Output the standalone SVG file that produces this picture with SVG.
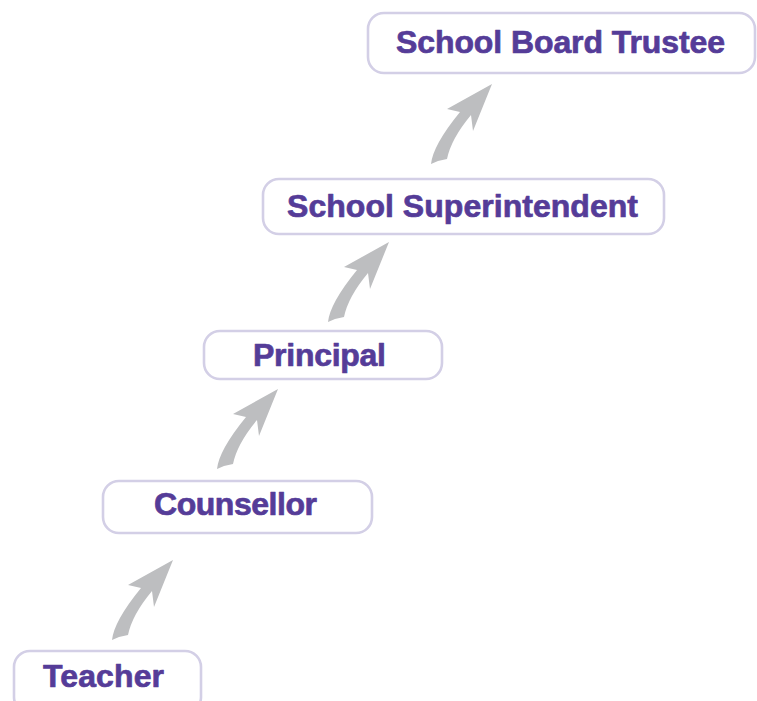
<svg xmlns="http://www.w3.org/2000/svg" width="757" height="701" viewBox="0 0 757 701">
<style>
.box{fill:#ffffff;stroke:#d3cfe6;stroke-width:2.6}
.lbl{font-family:"Liberation Sans",Arial,sans-serif;font-weight:bold;font-size:32px;fill:#553c98;stroke:#553c98;stroke-width:0.7;stroke-linejoin:round}
.arr{fill:#bdbec0}
</style>
<defs>
<path id="arrow" class="arr" d="M0,0 L-45,25 L-32,28 Q-59,61 -61,80 L-54,77 L-45,75 Q-41,55 -21,31 L-19,47 Z"/>
</defs>
<rect width="757" height="701" fill="#ffffff"/>
<g id="connectors">
<use href="#arrow" transform="translate(173,560)"/>
<use href="#arrow" transform="translate(278,389)"/>
<use href="#arrow" transform="translate(389,242)"/>
<use href="#arrow" transform="translate(492,84)"/>
</g>
<g id="node-trustee">
<rect class="box" x="368" y="13" width="387" height="60" rx="16"/>
<text class="lbl" x="396" y="53" textLength="329">School Board Trustee</text>
</g>
<g id="node-superintendent">
<rect class="box" x="263" y="179" width="401" height="55" rx="16"/>
<text class="lbl" x="287" y="217" textLength="351">School Superintendent</text>
</g>
<g id="node-principal">
<rect class="box" x="204" y="331" width="238" height="48" rx="16"/>
<text class="lbl" x="253" y="366" textLength="133">Principal</text>
</g>
<g id="node-counsellor">
<rect class="box" x="103" y="481" width="269" height="52" rx="16"/>
<text class="lbl" x="154" y="515" textLength="163">Counsellor</text>
</g>
<g id="node-teacher">
<rect class="box" x="14" y="651" width="187" height="62" rx="16"/>
<text class="lbl" x="43" y="687" textLength="121">Teacher</text>
</g>
</svg>
